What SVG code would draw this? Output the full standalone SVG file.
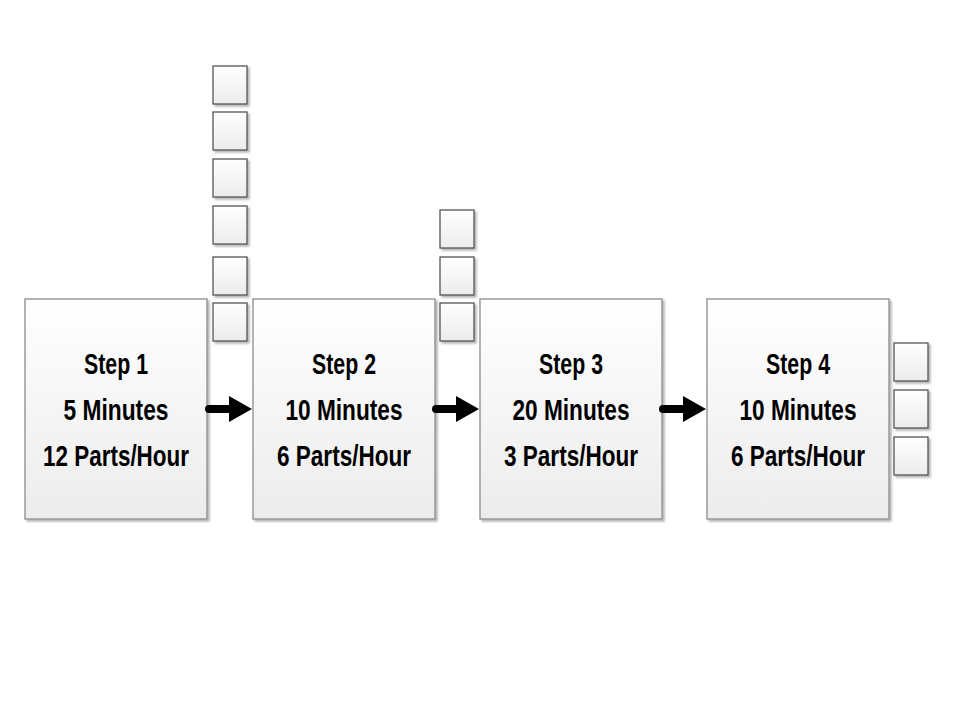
<svg xmlns="http://www.w3.org/2000/svg" width="960" height="720" viewBox="0 0 960 720">
<defs>
<linearGradient id="g" x1="0" y1="0" x2="0" y2="1">
<stop offset="0" stop-color="#ffffff"/>
<stop offset="1" stop-color="#ececec"/>
</linearGradient>
<filter id="sh" x="-10%" y="-10%" width="130%" height="130%">
<feDropShadow dx="2" dy="2" stdDeviation="1.2" flood-color="#000" flood-opacity="0.3"/>
</filter>
<style>
.box{fill:url(#g);stroke:#8c8c8c;stroke-width:1.3;filter:url(#sh)}
.sq{fill:url(#g);stroke:#555;stroke-width:1.3;filter:url(#sh)}
.t{font-family:"Liberation Sans",Arial,sans-serif;font-weight:bold;font-size:30px;fill:#000;text-anchor:middle}
.c{stroke:#000;stroke-width:8;stroke-linecap:round;fill:none}
</style>
</defs>
<rect width="960" height="720" fill="#fff"/>
<g id="step1">
<rect class="box" x="25" y="299" width="182" height="220"/>
<text class="t" x="116" y="374" textLength="64" lengthAdjust="spacingAndGlyphs">Step 1</text>
<text class="t" x="116" y="420" textLength="105" lengthAdjust="spacingAndGlyphs">5 Minutes</text>
<text class="t" x="116" y="466" textLength="146" lengthAdjust="spacingAndGlyphs">12 Parts/Hour</text>
</g>
<g id="step2">
<rect class="box" x="253" y="299" width="182" height="220"/>
<text class="t" x="344" y="374" textLength="64" lengthAdjust="spacingAndGlyphs">Step 2</text>
<text class="t" x="344" y="420" textLength="117" lengthAdjust="spacingAndGlyphs">10 Minutes</text>
<text class="t" x="344" y="466" textLength="134" lengthAdjust="spacingAndGlyphs">6 Parts/Hour</text>
</g>
<g id="step3">
<rect class="box" x="480" y="299" width="182" height="220"/>
<text class="t" x="571" y="374" textLength="64" lengthAdjust="spacingAndGlyphs">Step 3</text>
<text class="t" x="571" y="420" textLength="117" lengthAdjust="spacingAndGlyphs">20 Minutes</text>
<text class="t" x="571" y="466" textLength="134" lengthAdjust="spacingAndGlyphs">3 Parts/Hour</text>
</g>
<g id="step4">
<rect class="box" x="707" y="299" width="182" height="220"/>
<text class="t" x="798" y="374" textLength="64" lengthAdjust="spacingAndGlyphs">Step 4</text>
<text class="t" x="798" y="420" textLength="117" lengthAdjust="spacingAndGlyphs">10 Minutes</text>
<text class="t" x="798" y="466" textLength="134" lengthAdjust="spacingAndGlyphs">6 Parts/Hour</text>
</g>
<g id="queue1">
<rect class="sq" x="213" y="66" width="34" height="38"/>
<rect class="sq" x="213" y="112" width="34" height="38"/>
<rect class="sq" x="213" y="159" width="34" height="38"/>
<rect class="sq" x="213" y="206" width="34" height="38"/>
<rect class="sq" x="213" y="257" width="34" height="38"/>
<rect class="sq" x="213" y="303" width="34" height="38"/>
</g>
<g id="queue2">
<rect class="sq" x="440" y="210" width="34" height="38"/>
<rect class="sq" x="440" y="257" width="34" height="38"/>
<rect class="sq" x="440" y="303" width="34" height="38"/>
</g>
<g id="queue3">
<rect class="sq" x="894" y="343" width="34" height="38"/>
<rect class="sq" x="894" y="390" width="34" height="38"/>
<rect class="sq" x="894" y="437" width="34" height="38"/>
</g>
<g id="connectors">
<path d="M209,409 L232,409" class="c"/>
<path d="M229,396 L252,409 L229,422 Z" fill="#000"/>
<path d="M436,409 L459,409" class="c"/>
<path d="M456,396 L479,409 L456,422 Z" fill="#000"/>
<path d="M663,409 L686,409" class="c"/>
<path d="M683,396 L706,409 L683,422 Z" fill="#000"/>
</g>
</svg>
